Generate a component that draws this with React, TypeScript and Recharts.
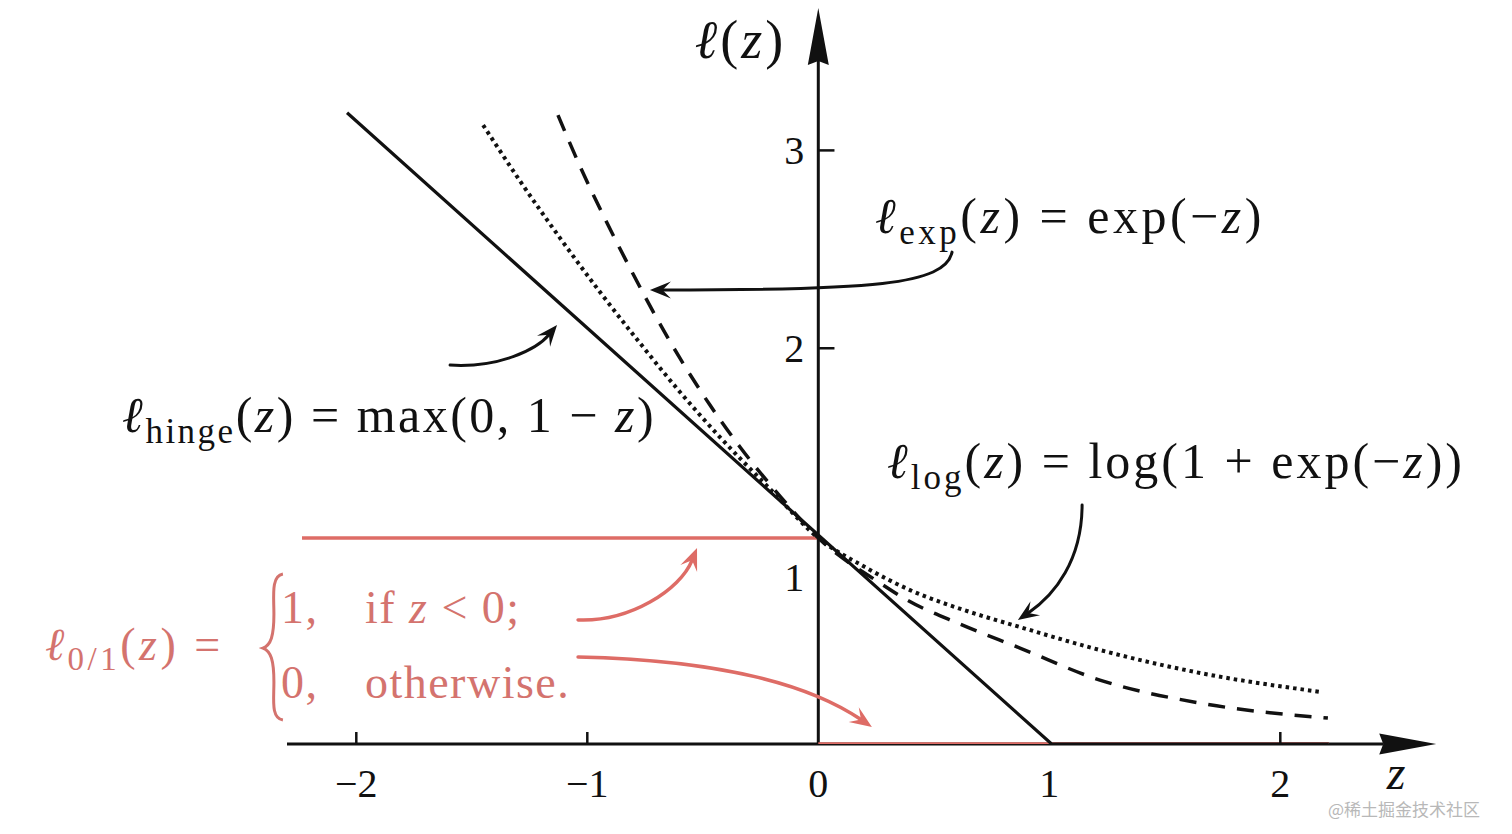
import React from 'react';
import { ComposedChart, Line, XAxis, YAxis, ReferenceLine, ReferenceDot } from 'recharts';

// ---------- data ----------
const xTicks = [-2, -1, 0, 1, 2];
const yTickValues = [2, 3];

const hingeZ = [-2.04, 1.01, 2.21];
const hingeL = [3.19, 0, 0];

const expZ = [-1.127, -1.032, -0.923, -0.815, -0.707, -0.599, -0.469, -0.339, -0.166, 0, 0.267, 0.384, 0.613, 0.873, 1.219, 1.652, 2.206];
const expL = [3.178, 2.921, 2.653, 2.405, 2.168, 1.95, 1.713, 1.501, 1.253, 1.041, 0.814, 0.728, 0.606, 0.485, 0.323, 0.207, 0.131];

const logZ = [-1.451, -1.291, -1.118, -0.945, -0.772, -0.599, -0.426, -0.209, 0, 0.202, 0.397, 0.657, 0.873, 1.219, 1.652, 2.176];
const logL = [3.128, 2.845, 2.557, 2.284, 2.026, 1.779, 1.551, 1.289, 1.041, 0.894, 0.778, 0.667, 0.591, 0.475, 0.359, 0.263];

const zeroOneNegZ = [-2.235, 0];
const zeroOneNegL = [1.041, 1.041];
const zeroOnePosZ = [0, 2.21];
const zeroOnePosL = [0, 0];

const zip = (zs: number[], ls: number[]) => zs.map((z, i) => ({ z, l: ls[i] }));
const hingeData = zip(hingeZ, hingeL);
const expData = zip(expZ, expL);
const logData = zip(logZ, logL);
const zeroOneNegData = zip(zeroOneNegZ, zeroOneNegL);
const zeroOnePosData = zip(zeroOnePosZ, zeroOnePosL);

// ---------- style ----------
const INK = '#111';
const RED = '#de6c66';
const RED_TEXT = '#d4736e';
const SERIF = "'Liberation Serif','DejaVu Serif',serif";

// axis line with a filled arrow head at its end
const axisArrow = (p: any) => {
  const { x1, y1, x2, y2 } = p;
  const dx = x2 - x1, dy = y2 - y1;
  const L = Math.hypot(dx, dy) || 1;
  const ux = dx / L, uy = dy / L, nx = -uy, ny = ux;
  const len = 57, hw = 10.5;
  const bx = x2 - ux * len, by = y2 - uy * len;
  return (
    <g>
      <line x1={x1} y1={y1} x2={bx + ux * 4} y2={by + uy * 4} stroke={INK} strokeWidth={3} />
      <path
        d={`M${x2},${y2} L${bx + nx * hw},${by + ny * hw} L${bx + ux * 4},${by + uy * 4} L${bx - nx * hw},${by - ny * hw} Z`}
        fill={INK}
      />
    </g>
  );
};

// curved annotation arrow (cubic) from (x1,y1) to (x2,y2)
const curvedArrow = (a1: number, b1: number, a2: number, b2: number, color: string, w: number, hl: number, hw: number) =>
  (p: any) => {
    const { x1, y1, x2, y2 } = p;
    const dx = x2 - x1, dy = y2 - y1;
    const px = -dy, py = dx;
    const c1x = x1 + a1 * dx + b1 * px, c1y = y1 + a1 * dy + b1 * py;
    const c2x = x1 + a2 * dx + b2 * px, c2y = y1 + a2 * dy + b2 * py;
    const tx = x2 - c2x, ty = y2 - c2y;
    const tl = Math.hypot(tx, ty) || 1;
    const ux = tx / tl, uy = ty / tl, nx = -uy, ny = ux;
    const bx = x2 - ux * hl, by = y2 - uy * hl;
    const ex = x2 - ux * hl * 0.6, ey = y2 - uy * hl * 0.6;
    return (
      <g>
        <path d={`M${x1},${y1} C${c1x},${c1y} ${c2x},${c2y} ${ex},${ey}`} fill="none" stroke={color} strokeWidth={w} strokeLinecap="round" />
        <path
          d={`M${x2},${y2} L${bx + nx * hw},${by + ny * hw} L${ex},${ey} L${bx - nx * hw},${by - ny * hw} Z`}
          fill={color}
        />
      </g>
    );
  };

const yTickShape = (p: any) => {
  const { x1, y1, x2, y2 } = p;
  return <line x1={x1} y1={y1} x2={x2} y2={y2} stroke={INK} strokeWidth={2.5} />;
};

const renderXTick = (props: any) => {
  const { x, y, payload } = props;
  const v = payload.value as number;
  const label = v < 0 ? `\u2212${Math.abs(v)}` : `${v}`;
  const mark = v !== 0 && v !== 1;
  return (
    <g>
      {mark && <line x1={x} y1={y} x2={x} y2={y - 12} stroke={INK} strokeWidth={2.5} />}
      <text x={x} y={y + 53} textAnchor="middle" fontFamily={SERIF} fontSize={40} fill={INK}>
        {label}
      </text>
    </g>
  );
};

const yTickLabel = (v: number) => (p: any) => (
  <text x={p.cx - 14} y={p.cy + 14} textAnchor="end" fontFamily={SERIF} fontSize={40} fill={INK}>
    {v}
  </text>
);

const oneLabel = (p: any) => (
  <text x={p.cx - 14} y={p.cy + 45} textAnchor="end" fontFamily={SERIF} fontSize={40} fill={INK}>
    1
  </text>
);

const yTitle = (p: any) => (
  <text x={p.cx} y={p.cy} fontFamily={SERIF} fontSize={54} letterSpacing={3} fill={INK}>
    <tspan fontStyle="italic">ℓ</tspan>
    <tspan>(</tspan>
    <tspan fontStyle="italic">z</tspan>
    <tspan>)</tspan>
  </text>
);

const xTitle = (p: any) => (
  <text x={p.cx} y={p.cy + 45} textAnchor="middle" fontFamily={SERIF} fontSize={48} fontStyle="italic" fill={INK}>
    z
  </text>
);

const expLabel = (p: any) => (
  <text x={p.cx} y={p.cy} fontFamily={SERIF} fontSize={50} letterSpacing={3.5} fill={INK}>
    <tspan fontStyle="italic">ℓ</tspan>
    <tspan fontSize={35} dy={11}>exp</tspan>
    <tspan dy={-11}>(</tspan>
    <tspan fontStyle="italic">z</tspan>
    <tspan>{') = exp(\u2212'}</tspan>
    <tspan fontStyle="italic">z</tspan>
    <tspan>)</tspan>
  </text>
);

const hingeLabel = (p: any) => (
  <text x={p.cx} y={p.cy} fontFamily={SERIF} fontSize={50} letterSpacing={2.5} fill={INK}>
    <tspan fontStyle="italic">ℓ</tspan>
    <tspan fontSize={35} dy={11}>hinge</tspan>
    <tspan dy={-11}>(</tspan>
    <tspan fontStyle="italic">z</tspan>
    <tspan>{') = max(0, 1 \u2212 '}</tspan>
    <tspan fontStyle="italic">z</tspan>
    <tspan>)</tspan>
  </text>
);

const logLabel = (p: any) => (
  <text x={p.cx} y={p.cy} fontFamily={SERIF} fontSize={50} letterSpacing={3} fill={INK}>
    <tspan fontStyle="italic">ℓ</tspan>
    <tspan fontSize={35} dy={11}>log</tspan>
    <tspan dy={-11}>(</tspan>
    <tspan fontStyle="italic">z</tspan>
    <tspan>{') = log(1 + exp(\u2212'}</tspan>
    <tspan fontStyle="italic">z</tspan>
    <tspan>))</tspan>
  </text>
);

const zeroOneLabel = (p: any) => {
  const { cx, cy } = p;
  const common = { fontFamily: SERIF, fontSize: 46, fill: RED_TEXT, letterSpacing: 1.5 } as any;
  const bx = cx + 220, by = cy - 12;
  return (
    <g>
      <text x={cx} y={cy} {...common} letterSpacing={3.5}>
        <tspan fontStyle="italic">ℓ</tspan>
        <tspan fontSize={33} dy={10}>0/1</tspan>
        <tspan dy={-10}>(</tspan>
        <tspan fontStyle="italic">z</tspan>
        <tspan>{') ='}</tspan>
      </text>
      <path
        d={`M${bx + 18},${by - 74} C${bx + 6},${by - 72} ${bx + 9},${by - 52} ${bx + 9},${by - 34} C${bx + 9},${by - 12} ${bx + 6},${by - 3} ${bx - 2},${by} C${bx + 6},${by + 3} ${bx + 9},${by + 12} ${bx + 9},${by + 34} C${bx + 9},${by + 52} ${bx + 6},${by + 70} ${bx + 18},${by + 72}`}
        fill="none"
        stroke={RED_TEXT}
        strokeWidth={3}
      />
      <text x={cx + 236} y={cy - 37} {...common}>1,</text>
      <text x={cx + 320} y={cy - 37} {...common}>
        <tspan>{'if '}</tspan>
        <tspan fontStyle="italic">z</tspan>
        <tspan>{' < 0;'}</tspan>
      </text>
      <text x={cx + 236} y={cy + 38} {...common}>0,</text>
      <text x={cx + 320} y={cy + 38} {...common}>otherwise.</text>
    </g>
  );
};

const watermark = (p: any) => (
  <text x={p.cx} y={p.cy} fontFamily="'Noto Sans CJK SC', sans-serif" fontSize={17} fill="#b8b8b8">
    @稀土掘金技术社区
  </text>
);

export default function App() {
  return (
    <div style={{ width: 1512, height: 834, background: '#fff' }}>
      <style>{'body{margin:0;background:#fff}'}</style>
      <ComposedChart width={1512} height={834} margin={{ top: 2, right: 70, bottom: 60, left: 287 }}>
        <XAxis
          type="number"
          dataKey="z"
          domain={[-2.3, 2.7]}
          ticks={xTicks}
          interval={0}
          tick={renderXTick}
          tickLine={false}
          axisLine={false}
          tickSize={0}
          tickMargin={0}
          height={30}
          allowDataOverflow
        />
        <YAxis type="number" domain={[0, 3.75]} hide width={0} allowDataOverflow />

        {/* axes */}
        <ReferenceLine segment={[{ x: -2.3, y: 0 }, { x: 2.675, y: 0 }]} ifOverflow="visible" shape={axisArrow} />
        <ReferenceLine segment={[{ x: 0, y: 0 }, { x: 0, y: 3.72 }]} ifOverflow="visible" shape={axisArrow} />
        {yTickValues.map((v) => (
          <ReferenceLine key={`yt${v}`} segment={[{ x: 0, y: v }, { x: 0.07, y: v }]} ifOverflow="visible" shape={yTickShape} />
        ))}
        {yTickValues.map((v) => (
          <ReferenceDot key={`yl${v}`} x={0} y={v} r={0} ifOverflow="visible" shape={yTickLabel(v)} />
        ))}
        <ReferenceDot x={0} y={1} r={0} ifOverflow="visible" shape={oneLabel} />

        {/* series */}
        <Line data={zeroOneNegData} dataKey="l" type="linear" stroke={RED} strokeWidth={3.5} dot={false} isAnimationActive={false} />
        <Line data={zeroOnePosData} dataKey="l" type="linear" stroke={RED} strokeWidth={3.5} dot={false} isAnimationActive={false} />
        <Line data={hingeData} dataKey="l" type="linear" stroke={INK} strokeWidth={3.2} dot={false} isAnimationActive={false} />
        <Line data={logData} dataKey="l" type="monotone" stroke={INK} strokeWidth={4} strokeDasharray="3.5 4" dot={false} isAnimationActive={false} />
        <Line data={expData} dataKey="l" type="monotone" stroke={INK} strokeWidth={3.5} strokeDasharray="17 12" dot={false} isAnimationActive={false} />

        {/* annotation arrows */}
        <ReferenceLine segment={[{ x: -1.594, y: 1.915 }, { x: -1.131, y: 2.117 }]} ifOverflow="visible" shape={curvedArrow(0.401, 0.178, 0.762, 0.135, INK, 3, 21, 8.5)} />
        <ReferenceLine segment={[{ x: 0.579, y: 2.486 }, { x: -0.729, y: 2.294 }]} ifOverflow="visible" shape={curvedArrow(0.036, -0.105, 0.283, -0.09, INK, 3, 21, 8.5)} />
        <ReferenceLine segment={[{ x: 1.142, y: 1.208 }, { x: 0.864, y: 0.627 }]} ifOverflow="visible" shape={curvedArrow(0.365, -0.203, 0.697, -0.153, INK, 3, 21, 8.5)} />
        <ReferenceLine segment={[{ x: -1.04, y: 0.627 }, { x: -0.525, y: 0.99 }]} ifOverflow="visible" shape={curvedArrow(0.312, 0.206, 0.739, 0.195, RED, 3.5, 22, 9)} />
        <ReferenceLine segment={[{ x: -1.04, y: 0.44 }, { x: 0.232, y: 0.086 }]} ifOverflow="visible" shape={curvedArrow(0.459, -0.099, 0.768, -0.088, RED, 3.5, 22, 9)} />

        {/* text */}
        <ReferenceDot x={-0.535} y={3.466} r={0} ifOverflow="visible" shape={yTitle} />
        <ReferenceDot x={2.501} y={0} r={0} ifOverflow="visible" shape={xTitle} />
        <ReferenceDot x={0.245} y={2.582} r={0} ifOverflow="visible" shape={expLabel} />
        <ReferenceDot x={-3.014} y={1.577} r={0} ifOverflow="visible" shape={hingeLabel} />
        <ReferenceDot x={0.297} y={1.344} r={0} ifOverflow="visible" shape={logLabel} />
        <ReferenceDot x={-3.348} y={0.424} r={0} ifOverflow="visible" shape={zeroOneLabel} />
        <ReferenceDot x={2.206} y={-0.364} r={0} ifOverflow="visible" shape={watermark} />
      </ComposedChart>
    </div>
  );
}
